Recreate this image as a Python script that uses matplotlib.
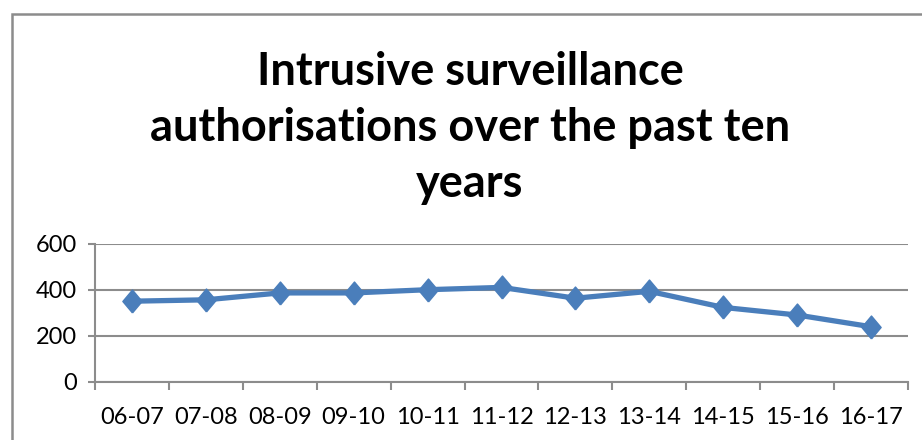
import matplotlib
matplotlib.use("Agg")
import matplotlib.pyplot as plt
from matplotlib.patches import Rectangle
import numpy as np

categories = ["06-07", "07-08", "08-09", "09-10", "10-11", "11-12",
              "12-13", "13-14", "14-15", "15-16", "16-17"]
values = [350, 356, 386, 386, 400, 410, 363, 393, 323, 290, 239]
yticks = [0, 200, 400, 600]
title = "Intrusive surveillance\nauthorisations over the past ten\nyears"

W, H = 922, 440
fig = plt.figure(figsize=(W / 100, H / 100), dpi=100)
fig.patch.set_facecolor("white")

# outer chart border (left, top, right visible)
fig.add_artist(Rectangle((12 / W, -0.1), 1.2, (H - 14) / H + 0.1,
                         transform=fig.transFigure, fill=False,
                         edgecolor="#8c8c8c", linewidth=1.8))

ax = fig.add_axes([95 / W, (H - 381.7) / H, (908 - 95) / W, (381.7 - 243.7) / H])
x = np.arange(len(categories))
diamond = [(0, -1.19), (1, 0), (0, 1.19), (-1, 0), (0, -1.19)]
ax.plot(x, values, color="#4a7ebb", linewidth=3.8, marker=diamond,
        markersize=16.5, markerfacecolor="#4a7ebb", markeredgecolor="#4a7ebb",
        solid_joinstyle="round", zorder=3)

ax.set_xlim(-0.5, len(categories) - 0.5)
ax.set_ylim(0, 600)
ax.set_yticks(yticks)
ax.set_yticklabels([str(v) for v in yticks])
ax.set_xticks(x)
ax.set_xticklabels(categories)
ax.set_xticks(np.arange(-0.5, len(categories)), minor=True)

ax.grid(axis="y", color="#8c8c8c", linewidth=1.5)
ax.set_axisbelow(True)
for s in ["top", "right"]:
    ax.spines[s].set_visible(False)
for s in ["left", "bottom"]:
    ax.spines[s].set_color("#8c8c8c")
    ax.spines[s].set_linewidth(1.5)

ax.tick_params(axis="y", length=5, width=1.5, color="#8c8c8c", pad=8,
               labelsize=17, labelcolor="black")
ax.tick_params(axis="x", which="major", length=0, pad=18, labelsize=17,
               labelcolor="black")
ax.tick_params(axis="x", which="minor", length=6, width=1.5, color="#8c8c8c")
for lab in ax.get_xticklabels() + ax.get_yticklabels():
    lab.set_family(["Lato", "DejaVu Sans"])

fig.text(470 / W, 1 - 128 / H, title, ha="center", va="center",
         fontsize=32.5, fontweight="bold", family=["Lato", "DejaVu Sans"],
         linespacing=1.42)

fig.savefig("out.png", dpi=100, facecolor="white")
